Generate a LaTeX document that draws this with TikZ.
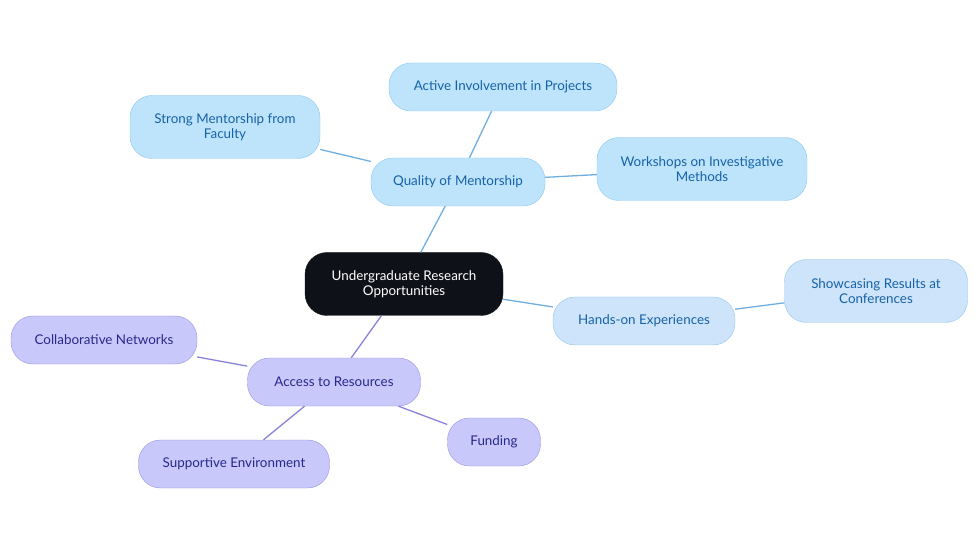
\documentclass[tikz,border=0pt]{standalone}
\usepackage{fontspec}
\setmainfont{Lato}
\definecolor{rootfill}{RGB}{14,17,23}
\definecolor{bluefill}{RGB}{190,228,252}
\definecolor{blueedge}{RGB}{140,198,238}
\definecolor{bluetext}{RGB}{22,98,168}
\definecolor{palefill}{RGB}{206,228,250}
\definecolor{paleedge}{RGB}{150,196,236}
\definecolor{lavfill}{RGB}{200,200,250}
\definecolor{lavedge}{RGB}{150,148,222}
\definecolor{lavtext}{RGB}{40,40,140}
\definecolor{blueline}{RGB}{110,174,224}
\definecolor{lavline}{RGB}{136,130,218}

\begin{document}
\begin{tikzpicture}[
  x=1pt, y=-1pt,
  font=\fontsize{13.4}{15.5}\selectfont,
  box/.style={rounded corners=22pt, align=center, minimum height=48pt, inner sep=0pt},
  rootbox/.style={box, fill=rootfill, draw=rootfill, text=white, minimum height=63pt},
  bluebox/.style={box, fill=bluefill, draw=blueedge, text=bluetext},
  palebox/.style={box, fill=palefill, draw=paleedge, text=bluetext},
  lavbox/.style={box, fill=lavfill, draw=lavedge, text=lavtext},
  blink/.style={blueline, line width=1.3pt},
  llink/.style={lavline, line width=1.3pt}
]
\useasboundingbox (0,0) rectangle (980,553);

% centre
\node[rootbox, minimum width=198pt] (root) at (404,284) {Undergraduate Research\\Opportunities};

% mentorship branch
\node[bluebox, minimum width=174pt] (mentor) at (458,182) {Quality of Mentorship};
\node[bluebox, minimum width=228pt] (active) at (503,87) {Active Involvement in Projects};
\node[bluebox, minimum width=190pt, minimum height=63pt] (strong) at (225,127) {Strong Mentorship from\\Faculty};
\node[bluebox, minimum width=210pt, minimum height=63pt] (workshop) at (702,169) {Workshops on Investigative\\Methods};

% hands-on branch
\node[palebox, minimum width=182pt] (hands) at (644,321) {Hands-on Experiences};
\node[palebox, minimum width=183pt, minimum height=63pt] (showcase) at (876,291) {Showcasing Results at\\Conferences};

% resources branch
\node[lavbox, minimum width=173pt] (access) at (334,382) {Access to Resources};
\node[lavbox, minimum width=186pt] (collab) at (104,340) {Collaborative Networks};
\node[lavbox, minimum width=93pt] (funding) at (494,442) {Funding};
\node[lavbox, minimum width=191pt] (support) at (234,464) {Supportive Environment};

\draw[blink] (root) -- (mentor);
\draw[blink] (mentor) -- (active);
\draw[blink] (mentor) -- (strong);
\draw[blink] (mentor) -- (workshop);
\draw[blink] (root) -- (hands);
\draw[blink] (hands) -- (showcase);
\draw[llink] (root) -- (access);
\draw[llink] (access) -- (collab);
\draw[llink] (access) -- (funding);
\draw[llink] (access) -- (support);

\end{tikzpicture}
\end{document}
